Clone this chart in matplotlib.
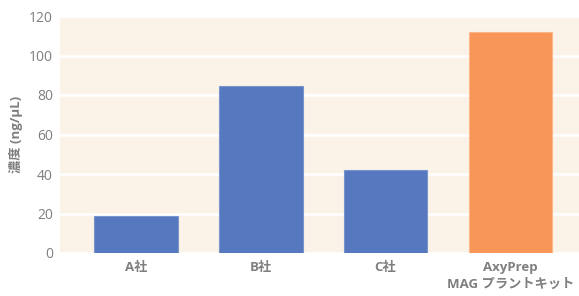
import matplotlib
matplotlib.use("Agg")
from matplotlib import pyplot as plt

plt.rcParams["font.family"] = ["Open Sans", "Noto Sans CJK JP", "DejaVu Sans"]

# Data
categories = ["A社", "B社", "C社", "AxyPrep\nMAG プラントキット"]
values = [18.7, 84.5, 42.0, 111.8]
colors = ["#5578BF", "#5578BF", "#5578BF", "#F79657"]
edges = ["#7A95CC", "#7A95CC", "#7A95CC", "#FBB68A"]
yticks = [0, 20, 40, 60, 80, 100, 120]

W, H = 579, 296
fig = plt.figure(figsize=(W / 100, H / 100), dpi=100)
ax = fig.add_axes([60 / W, (296 - 253) / H, (579 - 60) / W, (253 - 16) / H])
ax.set_facecolor("#FCF3E8")

x = list(range(len(categories)))
ax.bar(x, values, width=0.67, color=colors, edgecolor=edges, linewidth=0.8, zorder=3)

ax.set_ylim(0, 120)
ax.set_xlim(-0.61, 3.55)
ax.set_yticks(yticks)
ax.set_yticklabels([str(t) for t in yticks], color="#7F7F7F", fontsize=10)
ax.set_xticks(x)
ax.set_xticklabels(categories, color="#7F7F7F", fontsize=9.5, fontweight="bold", linespacing=1.35)
ax.tick_params(axis="x", length=0, pad=6)
ax.tick_params(axis="y", length=0, pad=5)
ax.grid(axis="y", color="white", linewidth=1.8, zorder=1)
for s in ax.spines.values():
    s.set_visible(False)
ax.set_ylabel("濃度 (ng/µL)", color="#7F7F7F", fontsize=9.5, fontweight="bold", labelpad=4)

fig.savefig("out.png", dpi=100)
